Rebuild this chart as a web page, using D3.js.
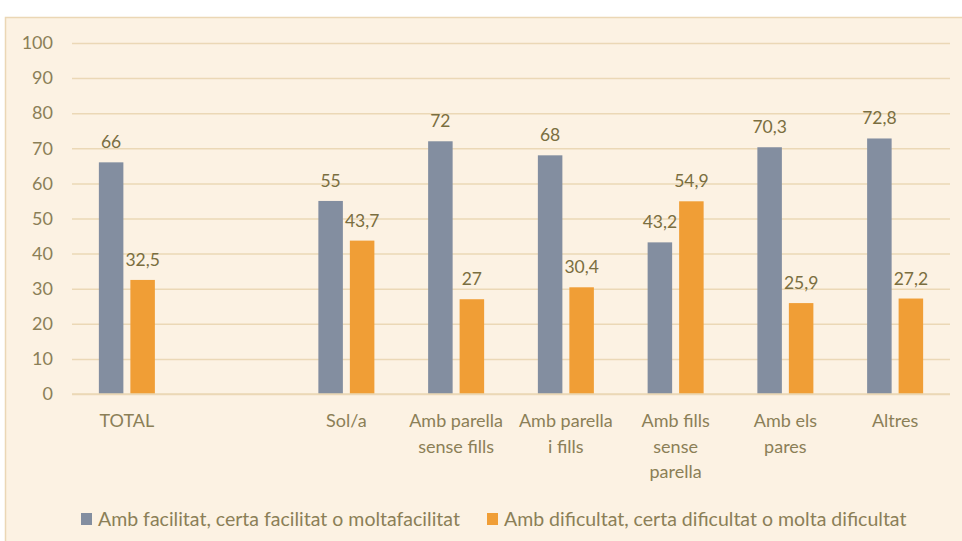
<!DOCTYPE html>
<html>
<head>
<meta charset="utf-8">
<script src="https://cdn.jsdelivr.net/npm/d3@7"></script>
<style>
  html, body { margin: 0; padding: 0; background: #fff; }
  svg { display: block; font-family: Lato, "Open Sans", sans-serif; }
</style>
</head>
<body>
<svg id="chart" width="962" height="541"></svg>
<script>
(function() {
    // dades
    const categories = ["TOTAL", "", "Sol/a", "Amb parella sense fills", "Amb parella i fills", "Amb fills sense parella", "Amb els pares", "Altres"];
    const categoryLines = [["TOTAL"], [], ["Sol/a"], ["Amb parella", "sense fills"], ["Amb parella", "i fills"], ["Amb fills", "sense", "parella"], ["Amb els", "pares"], ["Altres"]];
    const facilitat = [66, null, 55, 72, 68, 43.2, 70.3, 72.8];
    const dificultat = [32.5, null, 43.7, 27, 30.4, 54.9, 25.9, 27.2];
    const seriesNames = ["Amb facilitat, certa facilitat o moltafacilitat", "Amb dificultat, certa dificultat o molta dificultat"];
    const yTicks = [0, 10, 20, 30, 40, 50, 60, 70, 80, 90, 100];

    const colors = ["#838EA0", "#F09E36"];
    const textColor = "#8B7F57";
    const valueColor = "#7A6E40";
    const gridColor = "#EBD8B6";

    const svg = d3.select("#chart");

    // fons del gràfic
    svg.append("rect")
        .attr("x", 5.5).attr("y", 17.5)
        .attr("width", 980).attr("height", 540)
        .attr("fill", "#FCF2E3")
        .attr("stroke", "#EBD7B5")
        .attr("stroke-width", 1.5);

    const plot = { left: 72, right: 950, top: 43, bottom: 394 };

    const x0 = d3.scaleBand()
        .domain(d3.range(categories.length))
        .range([plot.left, plot.right])
        .paddingInner(0).paddingOuter(0);

    const x1 = d3.scaleBand()
        .domain([0, 1])
        .range([0, x0.bandwidth()])
        .paddingInner(0.222)
        .paddingOuter(0.853);

    const y = d3.scaleLinear().domain([0, 100]).range([plot.bottom, plot.top]);

    // línies de quadrícula
    const grid = svg.append("g")
        .attr("transform", `translate(${plot.left},0)`)
        .call(d3.axisLeft(y).tickValues(yTicks).tickSize(-(plot.right - plot.left)).tickFormat(""));
    grid.select(".domain").remove();
    grid.selectAll("line").attr("stroke", gridColor).attr("stroke-width", 1.5);

    // eix Y
    const yAxis = svg.append("g")
        .attr("transform", `translate(${plot.left},0)`)
        .call(d3.axisLeft(y).tickValues(yTicks).tickSize(0).tickPadding(19));
    yAxis.select(".domain").remove();
    yAxis.selectAll("text")
        .attr("fill", textColor)
        .style("font-size", "18px")
        .style("font-family", "Lato, 'Open Sans', sans-serif");

    // barres
    const series = [facilitat, dificultat];
    series.forEach((vals, s) => {
        const g = svg.append("g");
        const data = vals.map((v, i) => ({ i, v })).filter(d => d.v !== null);
        g.selectAll("rect")
            .data(data)
            .enter()
            .append("rect")
            .attr("x", d => x0(d.i) + x1(s))
            .attr("y", d => y(d.v))
            .attr("width", x1.bandwidth())
            .attr("height", d => y(0) - y(d.v))
            .attr("fill", colors[s]);

        g.selectAll("text")
            .data(data)
            .enter()
            .append("text")
            .attr("x", d => x0(d.i) + x1(s) + x1.bandwidth() / 2)
            .attr("y", d => y(d.v) - 14)
            .attr("text-anchor", "middle")
            .attr("fill", valueColor)
            .style("font-size", "17.5px")
            .text(d => String(d.v).replace(".", ","));
    });

    // eix X (línia base)
    svg.append("line")
        .attr("x1", plot.left).attr("x2", plot.right)
        .attr("y1", y(0)).attr("y2", y(0))
        .attr("stroke", gridColor).attr("stroke-width", 1.5);

    // etiquetes de categoria
    const catG = svg.append("g");
    categoryLines.forEach((lines, i) => {
        const t = catG.append("text")
            .attr("x", x0(i) + x0.bandwidth() / 2)
            .attr("y", 427)
            .attr("text-anchor", "middle")
            .attr("fill", textColor)
            .style("font-size", "18px");
        lines.forEach((line, k) => {
            t.append("tspan")
                .attr("x", x0(i) + x0.bandwidth() / 2)
                .attr("dy", k === 0 ? 0 : 25.5)
                .text(line);
        });
    });

    // llegenda
    const legendX = [81, 487];
    seriesNames.forEach((name, s) => {
        const g = svg.append("g").attr("transform", `translate(${legendX[s]},513)`);
        g.append("rect")
            .attr("width", 11).attr("height", 12)
            .attr("fill", colors[s]);
        g.append("text")
            .attr("x", 17).attr("y", 12.5)
            .attr("fill", textColor)
            .style("font-size", "19.5px")
            .text(name);
    });
})();
</script>
</body>
</html>
